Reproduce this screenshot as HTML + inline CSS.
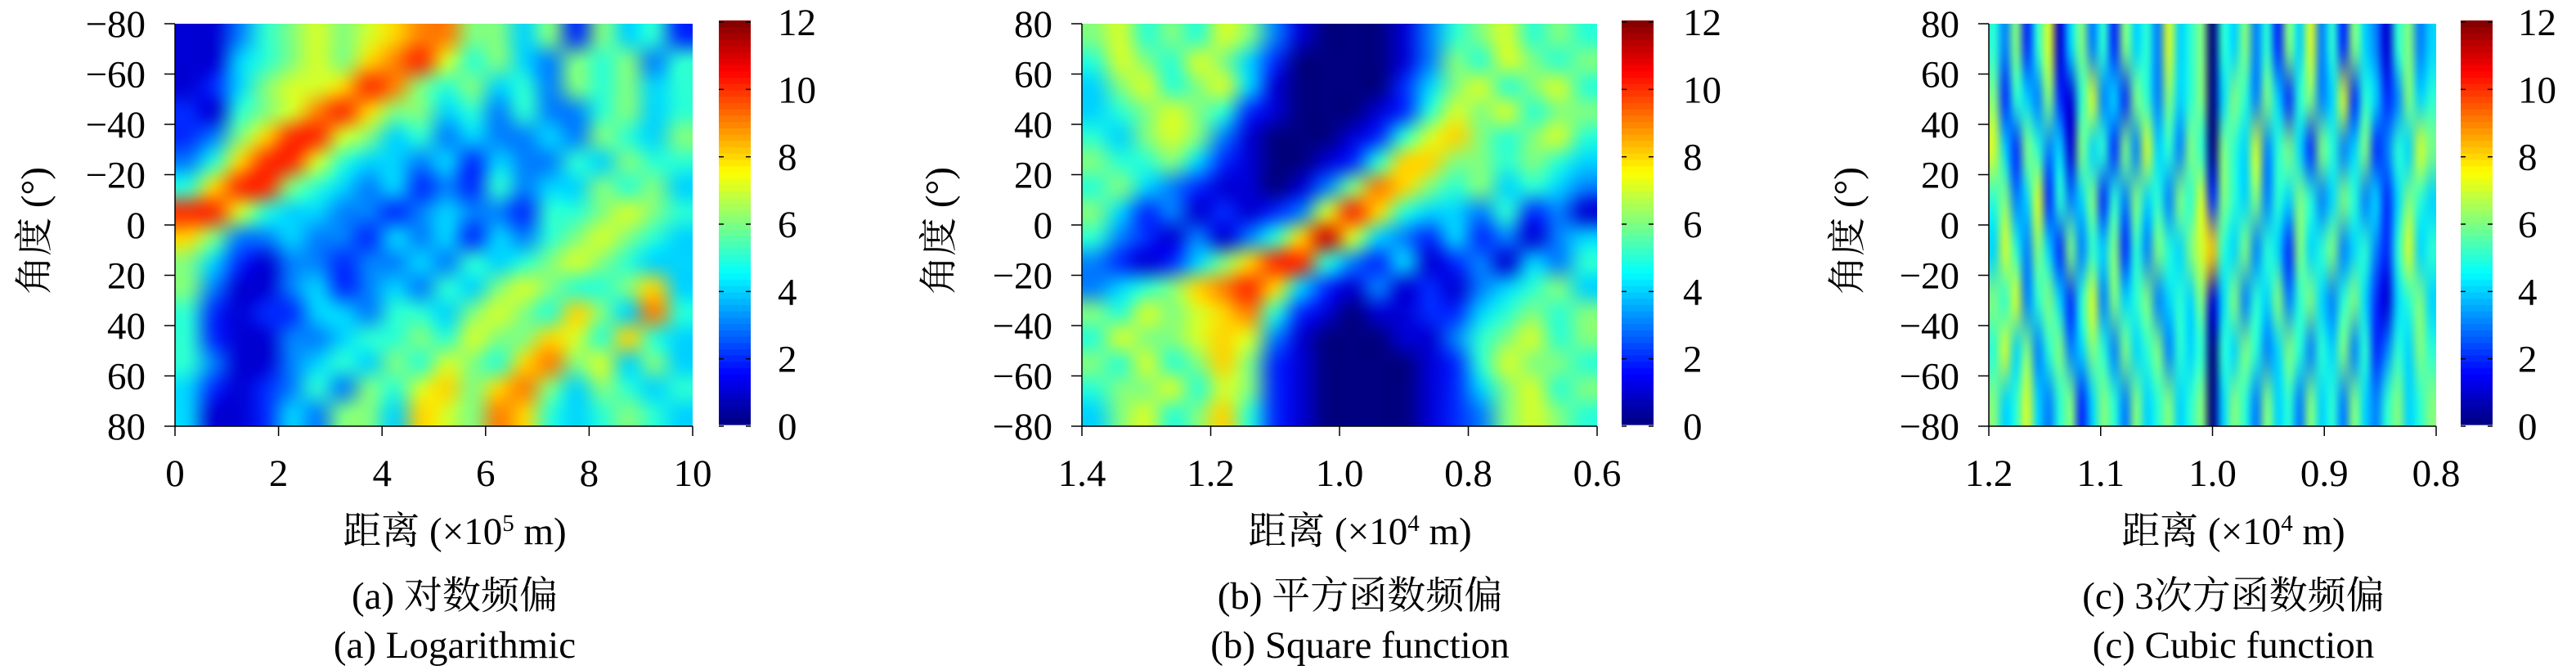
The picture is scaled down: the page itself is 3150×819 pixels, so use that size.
<!DOCTYPE html>
<html><head><meta charset="utf-8">
<style>
html,body{margin:0;padding:0;background:#fff;}
#wrap{position:relative;width:3150px;height:819px;overflow:hidden;}
svg{position:absolute;left:0;top:0;}
canvas{position:absolute;}
</style></head>
<body>
<div id="wrap">
<canvas id="ca"></canvas>
<canvas id="cb"></canvas>
<canvas id="cc"></canvas>
<svg id="svg" width="3150" height="819" xmlns="http://www.w3.org/2000/svg"></svg>
</div>
<script>
// ---- data ----
const colorTicks=[0,2,4,6,8,10,12];
const aXTicks=[0,2,4,6,8,10];
const aYTicks=[-80,-60,-40,-20,0,20,40,60,80];
const bXTicks=[1.4,1.2,1.0,0.8,0.6];
const bYTicks=[80,60,40,20,0,-20,-40,-60,-80];
const cXTicks=[1.2,1.1,1.0,0.9,0.8];
const cYTicks=[80,60,40,20,0,-20,-40,-60,-80];
const aXLabels=["0","2","4","6","8","10"];
const bXLabels=["1.4","1.2","1.0","0.8","0.6"];
const cXLabels=["1.2","1.1","1.0","0.9","0.8"];
// panel a: rows angle -75..75 (top->bottom), cols distance 0.25..9.75
const aValues=[
[1,1,3,5,6,7,6,7,8,9,9,6,6,4,6,2,6,4,5,2],
[1,1,4,5,6,7,6,8,9,10,7,5,6,4,3,6,5,6,3,5],
[1,2,4,6,7,7,8,10,9,6,5,6,4,5,3,6,5,6,4,5],
[2,1,5,6,7,9,10,8,6,6,4,5,3,5,3,3,5,6,4,5],
[2,3,6,8,10,10,7,6,4,5,3,4,3,3,4,3,6,5,4,6],
[3,5,8,10,10,7,5,4,4,3,4,2,4,3,3,5,4,6,5,5],
[5,8,10,10,6,5,4,3,4,2,3,2,5,3,4,4,6,5,6,4],
[10,10,7,5,4,4,3,3,2,3,4,3,3,2,5,5,6,7,6,5],
[8,6,3,3,4,3,3,2,4,3,4,2,4,3,5,6,7,6,5,4],
[6,4,2,1,3,3,2,3,3,4,3,5,4,5,6,7,6,5,4,4],
[6,3,1,1,3,4,2,3,4,3,5,4,6,7,6,5,5,6,8,4],
[5,2,1,2,2,4,4,3,5,5,4,6,7,6,5,8,6,4,9,5],
[5,2,1,1,3,3,4,5,5,6,5,7,6,6,8,7,5,8,5,4],
[5,3,1,1,3,4,5,4,6,5,7,6,5,8,9,6,7,4,6,4],
[4,2,1,2,3,5,3,6,5,7,8,6,8,9,6,4,6,5,4,5],
[4,1,1,2,4,3,6,6,4,8,7,6,9,8,5,4,5,6,5,4]];
// panel b: rows angle 75..-75, cols distance 1.38..0.62
const bValues=[
[6,7,5,6,5,7,6,3,1,0,0,0,1,3,5,6,7,5,6,5],
[5,7,6,5,7,6,4,2,0,0,0,0,1,3,6,5,7,6,5,6],
[4,6,7,5,6,7,4,1,0,0,0,0,2,4,6,7,5,6,7,5],
[4,5,6,7,6,5,2,1,0,0,0,1,2,5,7,6,7,5,6,6],
[5,4,6,7,6,3,1,0,0,0,1,2,5,7,8,6,5,6,7,5],
[6,5,5,6,4,2,1,0,0,1,2,5,8,8,6,6,5,6,5,4],
[5,6,4,3,2,1,1,0,1,3,6,9,8,6,5,6,4,5,4,3],
[6,4,2,3,1,2,1,2,3,7,10,8,5,4,4,3,5,2,3,1],
[5,3,2,1,3,1,3,5,8,11,7,4,3,2,4,2,3,1,3,4],
[3,2,1,2,4,6,8,10,10,5,3,2,4,1,2,3,1,4,3,5],
[3,4,5,6,8,9,10,8,4,2,1,3,1,2,1,3,4,5,6,4],
[6,5,7,6,7,8,9,5,2,1,0,1,1,2,2,4,5,6,5,6],
[5,7,6,6,7,8,7,3,1,0,0,0,1,1,3,5,6,7,5,6],
[6,5,7,5,6,8,6,2,1,0,0,0,0,1,2,5,7,6,6,5],
[5,6,6,7,5,7,6,2,1,0,0,0,0,1,2,4,6,7,5,6],
[4,6,7,5,6,8,5,2,1,0,0,0,0,1,2,3,6,7,6,5]];
// panel c: rows angle 70..-70, cols distance 1.20..0.80 step 0.01
const cValues=[
[5,3,6,2,5,7,1,4,6,3,5,2,6,4,5,3,7,4,5,6,0,5,4,6,3,5,2,6,4,7,3,5,2,6,4,3,1,5,6,3,4],
[6,2,5,4,3,6,2,1,5,7,3,4,2,6,5,3,6,4,5,6,0,4,6,5,3,6,4,2,5,6,3,4,7,2,5,4,2,3,6,4,5],
[7,4,2,6,5,3,4,1,6,4,5,2,6,3,7,4,5,3,6,5,0,6,5,4,7,3,5,6,4,2,6,5,3,4,6,2,3,5,4,7,6],
[5,6,3,4,7,2,5,3,4,6,2,5,3,6,4,5,3,6,5,7,2,6,5,4,6,3,5,4,6,5,3,4,6,5,3,4,2,4,6,5,4],
[4,7,5,3,6,4,2,6,3,5,4,6,2,5,3,6,5,4,6,7,8,5,4,6,3,5,4,2,6,4,5,6,3,4,5,3,2,5,7,4,5],
[6,5,7,3,5,6,4,2,5,7,3,6,4,5,6,3,4,5,4,6,1,4,6,3,5,4,6,3,5,6,4,3,5,6,4,2,1,4,5,6,4],
[5,7,4,6,3,5,6,3,4,6,5,3,6,4,5,6,3,5,4,5,0,5,4,6,5,3,4,6,5,3,5,4,6,3,5,2,3,5,4,6,5],
[6,4,5,7,4,3,5,6,2,4,6,5,3,6,4,5,6,4,5,6,0,4,6,5,3,6,4,5,3,6,4,5,3,6,4,3,5,6,4,5,6]];

// ---- helpers ----
function jet(v){
  function cl(x){return Math.max(0,Math.min(1,x));}
  const r=cl(1.5-Math.abs(4*v-3)), g=cl(1.5-Math.abs(4*v-2)), b=cl(1.5-Math.abs(4*v-1));
  return [Math.round(r*255),Math.round(g*255),Math.round(b*255)];
}
const NS="http://www.w3.org/2000/svg";
const svg=document.getElementById('svg');
function el(tag,attrs,parent){const e=document.createElementNS(NS,tag);for(const k in attrs)e.setAttribute(k,attrs[k]);(parent||svg).appendChild(e);return e;}
const FONT='"Liberation Serif","Noto Serif CJK SC","Noto Serif CJK JP",serif';
const T=29,B=521,FS=47;

function drawHeat(id,vals,L,R){
  const c=document.getElementById(id);
  const rows=vals.length, cols=vals[0].length;
  c.width=R-L; c.height=B-T; c.style.left=L+'px'; c.style.top=T+'px';
  const small=document.createElement('canvas'); small.width=cols; small.height=rows;
  const sx=small.getContext('2d'); const img=sx.createImageData(cols,rows);
  for(let r=0;r<rows;r++)for(let k=0;k<cols;k++){
    const col=jet(Math.max(0,Math.min(12,vals[r][k]))/12); const i=(r*cols+k)*4;
    img.data[i]=col[0];img.data[i+1]=col[1];img.data[i+2]=col[2];img.data[i+3]=255;}
  sx.putImageData(img,0,0);
  const ctx=c.getContext('2d'); ctx.imageSmoothingEnabled=true; ctx.imageSmoothingQuality='high';
  ctx.drawImage(small,0,0,cols,rows,0,0,c.width,c.height);
}

function panel(p){
  const g=el('g',{});
  
  
  drawHeat(p.canvas,p.vals,p.L,p.R);
  const xs=v=>p.L+(v-p.x0)/(p.x1-p.x0)*(p.R-p.L);
  const ys=v=>T+(v-p.y0)/(p.y1-p.y0)*(B-T);
  el('line',{x1:p.L,y1:T,x2:p.L,y2:B,stroke:'#000','stroke-width':1.5},g);
  el('line',{x1:p.L,y1:B,x2:p.R,y2:B,stroke:'#000','stroke-width':1.5},g);
  p.yt.forEach(v=>{
    const y=ys(v);
    el('line',{x1:p.L-13,y1:y,x2:p.L,y2:y,stroke:'#000','stroke-width':1.5},g);
    const t=el('text',{x:p.L-36,y:y+16,'text-anchor':'end','font-family':FONT,'font-size':FS},g);
    t.textContent=(v<0?'\u2212':'')+Math.abs(v);
    
    
  });
  p.xt.forEach((v,i)=>{
    const x=xs(v);
    el('line',{x1:x,y1:B,x2:x,y2:B+12,stroke:'#000','stroke-width':1.5},g);
    const t=el('text',{x:x,y:594,'text-anchor':'middle','font-family':FONT,'font-size':FS},g);
    t.textContent=p.xl[i];
    
    
  });
  const cbL=p.cb, cbW=39;
  const n=64;
  for(let i=0;i<n;i++){
    const col=jet((i+0.5)/n);
    const y0=B-(i+1)*(B-T+2)/n, h=(B-T+2)/n+0.6;
    el('rect',{x:cbL,y:y0-2,width:cbW,height:h,fill:`rgb(${col[0]},${col[1]},${col[2]})`},g);
  }
  const cy=v=>B-(v/12)*(B-T+2);
  colorTicks.forEach(v=>{
    const y=cy(v);
    el('line',{x1:cbL+cbW-6,y1:y,x2:cbL+cbW,y2:y,stroke:'#000','stroke-width':1.5},g);
    el('line',{x1:cbL,y1:y,x2:cbL+6,y2:y,stroke:'#000','stroke-width':1.5},g);
    const t=el('text',{x:p.cbt,y:y+16,'text-anchor':'start','font-family':FONT,'font-size':FS},g);
    t.textContent=v;
    
    
  });
  const yt=el('text',{x:0,y:0,'text-anchor':'middle','font-family':FONT,'font-size':FS,transform:`translate(${p.ylx},282) rotate(-90)`},g);
  yt.textContent='角度 (°)';
  
  
  const xt=el('text',{x:p.cx,y:665,'text-anchor':'middle','font-family':FONT,'font-size':FS},g);
  xt.innerHTML='距离 (×10<tspan dy="-16" font-size="29">'+p.exp+'</tspan><tspan dy="16"> m)</tspan>';
  
  
  const c1=el('text',{x:p.cx,y:744,'text-anchor':'middle','font-family':FONT,'font-size':FS},g);
  c1.textContent=p.cap1;
  
  
  const c2=el('text',{x:p.cx,y:804,'text-anchor':'middle','font-family':FONT,'font-size':FS},g);
  c2.textContent=p.cap2;
  
  
}

panel({key:'a',canvas:'ca',vals:aValues,L:214,R:847,x0:0,x1:10,y0:-80,y1:80,xt:aXTicks,xl:aXLabels,yt:aYTicks,cb:879,cbt:951,ylx:58,cx:556,exp:'5',cap1:'(a) 对数频偏',cap2:'(a) Logarithmic'});
panel({key:'b',canvas:'cb',vals:bValues,L:1323,R:1953,x0:1.4,x1:0.6,y0:80,y1:-80,xt:bXTicks,xl:bXLabels,yt:bYTicks,cb:1983,cbt:2058,ylx:1164,cx:1663,exp:'4',cap1:'(b) 平方函数频偏',cap2:'(b) Square function'});
panel({key:'c',canvas:'cc',vals:cValues,L:2432,R:2979,x0:1.2,x1:0.8,y0:80,y1:-80,xt:cXTicks,xl:cXLabels,yt:cYTicks,cb:3009,cbt:3079,ylx:2275,cx:2731,exp:'4',cap1:'(c) 3次方函数频偏',cap2:'(c) Cubic function'});
</script>
</body></html>
